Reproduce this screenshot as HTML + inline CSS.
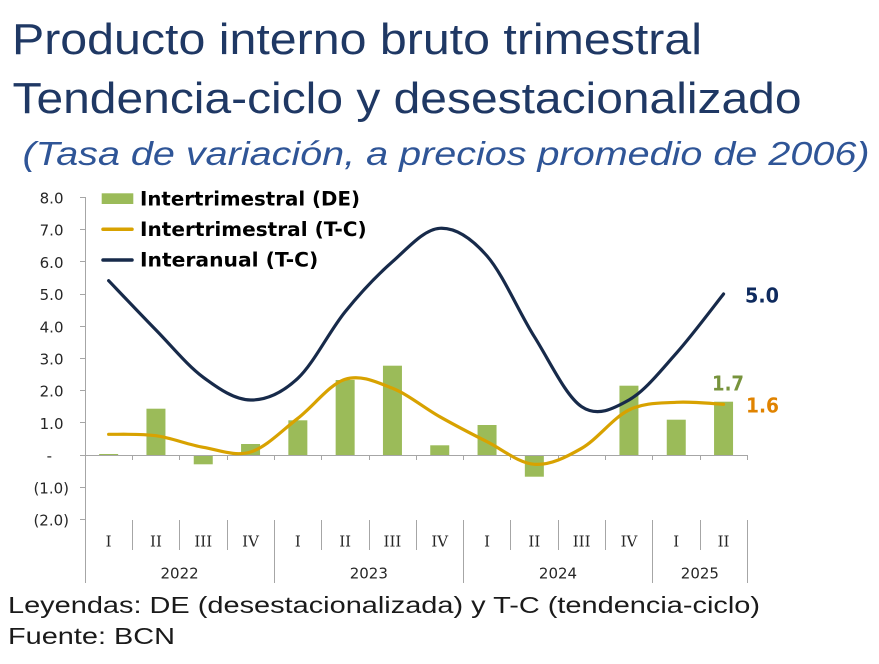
<!DOCTYPE html>
<html>
<head>
<meta charset="utf-8">
<style>
html,body{margin:0;padding:0;background:#fff;}
svg{display:block;}
</style>
</head>
<body>
<svg width="879" height="664" viewBox="0 0 879 664" xmlns="http://www.w3.org/2000/svg">
  <rect width="879" height="664" fill="#fff"/>
  <!-- Titles -->
  <text x="12" y="54" font-family="Liberation Sans, sans-serif" font-size="44" fill="#1F3864" textLength="690" lengthAdjust="spacingAndGlyphs">Producto interno bruto trimestral</text>
  <text x="12.5" y="113" font-family="Liberation Sans, sans-serif" font-size="44" fill="#1F3864" textLength="789" lengthAdjust="spacingAndGlyphs">Tendencia-ciclo y desestacionalizado</text>
  <text x="22.5" y="165" font-family="Liberation Sans, sans-serif" font-size="33" font-style="italic" fill="#2F5597" textLength="847" lengthAdjust="spacingAndGlyphs">(Tasa de variación, a precios promedio de 2006)</text>

  <!-- Footer -->
  <text x="8" y="613" font-family="Liberation Sans, sans-serif" font-size="23" fill="#1a1a1a" textLength="752" lengthAdjust="spacingAndGlyphs">Leyendas: DE (desestacionalizada) y T-C (tendencia-ciclo)</text>
  <text x="8" y="644" font-family="Liberation Sans, sans-serif" font-size="23" fill="#1a1a1a" textLength="167" lengthAdjust="spacingAndGlyphs">Fuente: BCN</text>

  <!-- Y axis labels -->
  <g font-family="DejaVu Sans, Liberation Sans, sans-serif" font-size="15" fill="#262626" text-anchor="end">
    <text x="63.5" y="203.5">8.0</text>
    <text x="63.5" y="235.7">7.0</text>
    <text x="63.5" y="267.9">6.0</text>
    <text x="63.5" y="300.1">5.0</text>
    <text x="63.5" y="332.3">4.0</text>
    <text x="63.5" y="364.5">3.0</text>
    <text x="63.5" y="396.7">2.0</text>
    <text x="63.5" y="428.9">1.0</text>
    <text x="52" y="461">-</text>
    <text x="69" y="493.3">(1.0)</text>
    <text x="69" y="525.5">(2.0)</text>
  </g>

  <!-- Bars -->
  <g fill="#9BBB59">
    <rect x="99.15" y="454" width="19" height="1"/>
    <rect x="146.45" y="408.7" width="19" height="46.3"/>
    <rect x="193.75" y="455" width="19" height="9.3"/>
    <rect x="241.05" y="444" width="19" height="11"/>
    <rect x="288.35" y="420.3" width="19" height="34.7"/>
    <rect x="335.65" y="380" width="19" height="75"/>
    <rect x="382.95" y="365.7" width="19" height="89.3"/>
    <rect x="430.25" y="445.3" width="19" height="9.7"/>
    <rect x="477.55" y="425" width="19" height="30"/>
    <rect x="524.85" y="455" width="19" height="21.7"/>
    <rect x="619.45" y="385.7" width="19" height="69.3"/>
    <rect x="666.75" y="419.7" width="19" height="35.3"/>
    <rect x="714.05" y="401.7" width="19" height="53.3"/>
  </g>

  <!-- Axes -->
  <g stroke="#A6A6A6" stroke-width="1" fill="none" shape-rendering="crispEdges">
    <line x1="85.5" y1="197" x2="85.5" y2="583"/>
    <line x1="85" y1="455.5" x2="747.5" y2="455.5"/>
    <path d="M80 197.5H85 M80 229.5H85 M80 261.5H85 M80 294.5H85 M80 326.5H85 M80 358.5H85 M80 390.5H85 M80 422.5H85 M80 455.5H85 M80 487.5H85 M80 519.5H85"/>
    <path d="M132.5 455V460 M179.5 455V460 M227.5 455V460 M274.5 455V460 M321.5 455V460 M369.5 455V460 M416.5 455V460 M463.5 455V460 M510.5 455V460 M558.5 455V460 M605.5 455V460 M652.5 455V460 M700.5 455V460 M747.5 455V460"/>
    <path d="M132.5 520V550 M179.5 520V550 M227.5 520V550 M321.5 520V550 M369.5 520V550 M416.5 520V550 M510.5 520V550 M558.5 520V550 M605.5 520V550 M700.5 520V550"/>
    <path d="M274.5 520V583 M463.5 520V583 M652.5 520V583 M747.5 520V583"/>
  </g>

  <!-- Category labels -->
  <g font-family="DejaVu Serif, Liberation Serif, serif" font-size="15" fill="#262626" text-anchor="middle">
    <text x="108.65" y="546.5">I</text>
    <text x="155.95" y="546.5">II</text>
    <text x="203.25" y="546.5">III</text>
    <text x="250.55" y="546.5">IV</text>
    <text x="297.85" y="546.5">I</text>
    <text x="345.15" y="546.5">II</text>
    <text x="392.45" y="546.5">III</text>
    <text x="439.75" y="546.5">IV</text>
    <text x="487.05" y="546.5">I</text>
    <text x="534.35" y="546.5">II</text>
    <text x="581.65" y="546.5">III</text>
    <text x="628.95" y="546.5">IV</text>
    <text x="676.25" y="546.5">I</text>
    <text x="723.55" y="546.5">II</text>
  </g>
  <g font-family="DejaVu Sans, Liberation Sans, sans-serif" font-size="15" fill="#262626" text-anchor="middle">
    <text x="179.6" y="578.3">2022</text>
    <text x="368.8" y="578.3">2023</text>
    <text x="558" y="578.3">2024</text>
    <text x="699.9" y="578.3">2025</text>
  </g>

  <!-- Orange T-C line -->
  <path fill="none" stroke="#D8A200" stroke-width="3.2" stroke-linecap="round" stroke-linejoin="round"
    d="M108.65,434.3
       C116.53,434.53 140.18,433.53 155.95,435.7
       C171.72,437.87 187.48,444.58 203.25,447.3
       C219.02,450.02 234.78,456.83 250.55,452
       C266.32,447.17 282.08,430.42 297.85,418.3
       C313.62,406.18 329.38,384.3 345.15,379.3
       C360.92,374.3 376.68,382.07 392.45,388.3
       C408.22,394.53 423.98,407.8 439.75,416.7
       C455.52,425.6 471.28,433.77 487.05,441.7
       C502.82,449.63 518.58,463.2 534.35,464.3
       C550.12,465.4 565.88,457.35 581.65,448.3
       C597.42,439.25 613.18,417.67 628.95,410
       C644.72,402.33 660.48,403.25 676.25,402.3
       C692.02,401.35 715.67,403.97 723.55,404.3"/>

  <!-- Navy interanual line -->
  <path fill="none" stroke="#172A4A" stroke-width="3.2" stroke-linecap="round" stroke-linejoin="round"
    d="M108.65,280.7
       C116.53,288.92 140.18,313.9 155.95,330
       C171.72,346.1 187.48,365.63 203.25,377.3
       C219.02,388.97 234.78,399.83 250.55,400
       C266.32,400.17 282.08,393.02 297.85,378.3
       C313.62,363.58 329.38,331.13 345.15,311.7
       C360.92,292.27 376.68,275.6 392.45,261.7
       C408.22,247.8 423.98,229.25 439.75,228.3
       C455.52,227.35 471.28,237.93 487.05,256
       C502.82,274.07 518.58,311.58 534.35,336.7
       C550.12,361.82 565.88,396.15 581.65,406.7
       C597.42,417.25 613.18,408.9 628.95,400
       C644.72,391.1 660.48,370.97 676.25,353.3
       C692.02,335.63 715.67,303.88 723.55,294"/>

  <!-- Data labels -->
  <g font-family="DejaVu Sans, Liberation Sans, sans-serif" font-size="20" font-weight="bold">
    <text x="745" y="302.3" fill="#0E2A5E" textLength="34" lengthAdjust="spacingAndGlyphs">5.0</text>
    <text x="712" y="390.7" fill="#77933C" textLength="32" lengthAdjust="spacingAndGlyphs">1.7</text>
    <text x="746" y="412.5" fill="#E08300" textLength="33" lengthAdjust="spacingAndGlyphs">1.6</text>
  </g>

  <!-- Legend -->
  <rect x="101.7" y="193.3" width="31.6" height="10.7" fill="#9BBB59"/>
  <line x1="103" y1="229.3" x2="132" y2="229.3" stroke="#D8A200" stroke-width="3.5" stroke-linecap="round"/>
  <line x1="103" y1="260" x2="132" y2="260" stroke="#172A4A" stroke-width="3.5" stroke-linecap="round"/>
  <g font-family="DejaVu Sans, Liberation Sans, sans-serif" font-size="19.5" font-weight="bold" fill="#000">
    <text x="140" y="205.7" textLength="220" lengthAdjust="spacingAndGlyphs">Intertrimestral (DE)</text>
    <text x="140" y="235.8" textLength="226.7" lengthAdjust="spacingAndGlyphs">Intertrimestral (T-C)</text>
    <text x="140" y="266.3" textLength="178.3" lengthAdjust="spacingAndGlyphs">Interanual (T-C)</text>
  </g>
</svg>
</body>
</html>
